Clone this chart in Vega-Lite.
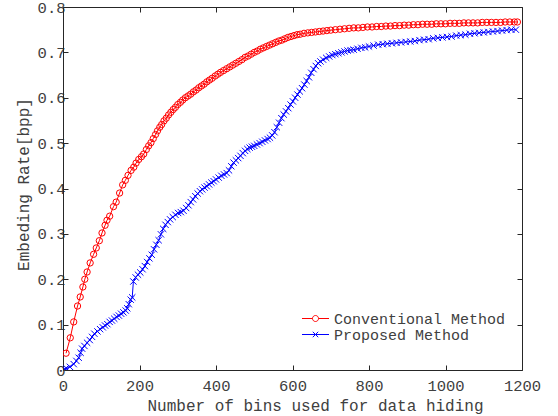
{
  "$schema": "https://vega.github.io/schema/vega-lite/v6.json",
  "width": 459,
  "height": 363,
  "autosize": "none",
  "padding": {"left": 63, "top": 7, "right": 36, "bottom": 46},
  "background": "white",
  "config": {
    "view": {"stroke": null},
    "font": "Liberation Mono",
    "axis": {
      "grid": false,
      "domainColor": "#262626",
      "tickColor": "#262626",
      "labelColor": "#404040",
      "titleColor": "#404040",
      "labelFont": "Liberation Mono",
      "titleFont": "Liberation Mono",
      "labelFontSize": 15.5,
      "titleFontSize": 16,
      "titleFontWeight": "normal",
      "tickSize": -5,
      "domainWidth": 1,
      "tickWidth": 1,
      "labelFlush": false,
      "labelOverlap": false
    }
  },
  "data": {"values": [
    {"method": "Conventional Method", "bins": 8, "rate": 0.037},
    {"method": "Conventional Method", "bins": 19, "rate": 0.071},
    {"method": "Conventional Method", "bins": 28, "rate": 0.106},
    {"method": "Conventional Method", "bins": 38, "rate": 0.141},
    {"method": "Conventional Method", "bins": 45, "rate": 0.161},
    {"method": "Conventional Method", "bins": 52, "rate": 0.183},
    {"method": "Conventional Method", "bins": 57, "rate": 0.2},
    {"method": "Conventional Method", "bins": 63, "rate": 0.216},
    {"method": "Conventional Method", "bins": 71, "rate": 0.236},
    {"method": "Conventional Method", "bins": 80, "rate": 0.255},
    {"method": "Conventional Method", "bins": 87, "rate": 0.269},
    {"method": "Conventional Method", "bins": 95, "rate": 0.285},
    {"method": "Conventional Method", "bins": 102, "rate": 0.302},
    {"method": "Conventional Method", "bins": 110, "rate": 0.319},
    {"method": "Conventional Method", "bins": 115, "rate": 0.33},
    {"method": "Conventional Method", "bins": 122, "rate": 0.339},
    {"method": "Conventional Method", "bins": 132, "rate": 0.36},
    {"method": "Conventional Method", "bins": 139, "rate": 0.37},
    {"method": "Conventional Method", "bins": 148, "rate": 0.39},
    {"method": "Conventional Method", "bins": 156, "rate": 0.408},
    {"method": "Conventional Method", "bins": 163, "rate": 0.418},
    {"method": "Conventional Method", "bins": 170, "rate": 0.429},
    {"method": "Conventional Method", "bins": 178, "rate": 0.44},
    {"method": "Conventional Method", "bins": 185, "rate": 0.447},
    {"method": "Conventional Method", "bins": 191, "rate": 0.456},
    {"method": "Conventional Method", "bins": 198, "rate": 0.464},
    {"method": "Conventional Method", "bins": 205, "rate": 0.47},
    {"method": "Conventional Method", "bins": 211, "rate": 0.476},
    {"method": "Conventional Method", "bins": 218, "rate": 0.486},
    {"method": "Conventional Method", "bins": 224, "rate": 0.494},
    {"method": "Conventional Method", "bins": 230, "rate": 0.501},
    {"method": "Conventional Method", "bins": 236, "rate": 0.51},
    {"method": "Conventional Method", "bins": 242, "rate": 0.519},
    {"method": "Conventional Method", "bins": 247, "rate": 0.527},
    {"method": "Conventional Method", "bins": 253, "rate": 0.535},
    {"method": "Conventional Method", "bins": 258, "rate": 0.541},
    {"method": "Conventional Method", "bins": 264, "rate": 0.549},
    {"method": "Conventional Method", "bins": 270, "rate": 0.555},
    {"method": "Conventional Method", "bins": 276, "rate": 0.562},
    {"method": "Conventional Method", "bins": 282, "rate": 0.568},
    {"method": "Conventional Method", "bins": 288, "rate": 0.574},
    {"method": "Conventional Method", "bins": 294, "rate": 0.579},
    {"method": "Conventional Method", "bins": 300, "rate": 0.585},
    {"method": "Conventional Method", "bins": 307, "rate": 0.59},
    {"method": "Conventional Method", "bins": 313, "rate": 0.595},
    {"method": "Conventional Method", "bins": 320, "rate": 0.6},
    {"method": "Conventional Method", "bins": 327, "rate": 0.604},
    {"method": "Conventional Method", "bins": 334, "rate": 0.608},
    {"method": "Conventional Method", "bins": 341, "rate": 0.613},
    {"method": "Conventional Method", "bins": 348, "rate": 0.617},
    {"method": "Conventional Method", "bins": 355, "rate": 0.622},
    {"method": "Conventional Method", "bins": 362, "rate": 0.626},
    {"method": "Conventional Method", "bins": 369, "rate": 0.63},
    {"method": "Conventional Method", "bins": 376, "rate": 0.635},
    {"method": "Conventional Method", "bins": 383, "rate": 0.639},
    {"method": "Conventional Method", "bins": 390, "rate": 0.643},
    {"method": "Conventional Method", "bins": 398, "rate": 0.648},
    {"method": "Conventional Method", "bins": 405, "rate": 0.652},
    {"method": "Conventional Method", "bins": 412, "rate": 0.656},
    {"method": "Conventional Method", "bins": 420, "rate": 0.66},
    {"method": "Conventional Method", "bins": 428, "rate": 0.664},
    {"method": "Conventional Method", "bins": 436, "rate": 0.668},
    {"method": "Conventional Method", "bins": 444, "rate": 0.672},
    {"method": "Conventional Method", "bins": 452, "rate": 0.676},
    {"method": "Conventional Method", "bins": 460, "rate": 0.68},
    {"method": "Conventional Method", "bins": 468, "rate": 0.684},
    {"method": "Conventional Method", "bins": 476, "rate": 0.689},
    {"method": "Conventional Method", "bins": 484, "rate": 0.692},
    {"method": "Conventional Method", "bins": 492, "rate": 0.696},
    {"method": "Conventional Method", "bins": 500, "rate": 0.7},
    {"method": "Conventional Method", "bins": 508, "rate": 0.703},
    {"method": "Conventional Method", "bins": 516, "rate": 0.707},
    {"method": "Conventional Method", "bins": 524, "rate": 0.71},
    {"method": "Conventional Method", "bins": 532, "rate": 0.713},
    {"method": "Conventional Method", "bins": 540, "rate": 0.716},
    {"method": "Conventional Method", "bins": 548, "rate": 0.719},
    {"method": "Conventional Method", "bins": 556, "rate": 0.722},
    {"method": "Conventional Method", "bins": 564, "rate": 0.725},
    {"method": "Conventional Method", "bins": 572, "rate": 0.727},
    {"method": "Conventional Method", "bins": 580, "rate": 0.73},
    {"method": "Conventional Method", "bins": 588, "rate": 0.733},
    {"method": "Conventional Method", "bins": 596, "rate": 0.735},
    {"method": "Conventional Method", "bins": 604, "rate": 0.737},
    {"method": "Conventional Method", "bins": 612, "rate": 0.739},
    {"method": "Conventional Method", "bins": 620, "rate": 0.74},
    {"method": "Conventional Method", "bins": 630, "rate": 0.742},
    {"method": "Conventional Method", "bins": 640, "rate": 0.743},
    {"method": "Conventional Method", "bins": 650, "rate": 0.744},
    {"method": "Conventional Method", "bins": 660, "rate": 0.745},
    {"method": "Conventional Method", "bins": 670, "rate": 0.746},
    {"method": "Conventional Method", "bins": 680, "rate": 0.747},
    {"method": "Conventional Method", "bins": 690, "rate": 0.748},
    {"method": "Conventional Method", "bins": 700, "rate": 0.749},
    {"method": "Conventional Method", "bins": 712, "rate": 0.75},
    {"method": "Conventional Method", "bins": 724, "rate": 0.751},
    {"method": "Conventional Method", "bins": 736, "rate": 0.752},
    {"method": "Conventional Method", "bins": 748, "rate": 0.753},
    {"method": "Conventional Method", "bins": 760, "rate": 0.754},
    {"method": "Conventional Method", "bins": 772, "rate": 0.754},
    {"method": "Conventional Method", "bins": 784, "rate": 0.755},
    {"method": "Conventional Method", "bins": 796, "rate": 0.756},
    {"method": "Conventional Method", "bins": 808, "rate": 0.756},
    {"method": "Conventional Method", "bins": 820, "rate": 0.757},
    {"method": "Conventional Method", "bins": 832, "rate": 0.757},
    {"method": "Conventional Method", "bins": 844, "rate": 0.758},
    {"method": "Conventional Method", "bins": 856, "rate": 0.758},
    {"method": "Conventional Method", "bins": 868, "rate": 0.759},
    {"method": "Conventional Method", "bins": 880, "rate": 0.759},
    {"method": "Conventional Method", "bins": 892, "rate": 0.76},
    {"method": "Conventional Method", "bins": 904, "rate": 0.76},
    {"method": "Conventional Method", "bins": 916, "rate": 0.761},
    {"method": "Conventional Method", "bins": 928, "rate": 0.761},
    {"method": "Conventional Method", "bins": 940, "rate": 0.762},
    {"method": "Conventional Method", "bins": 952, "rate": 0.762},
    {"method": "Conventional Method", "bins": 964, "rate": 0.762},
    {"method": "Conventional Method", "bins": 976, "rate": 0.763},
    {"method": "Conventional Method", "bins": 988, "rate": 0.763},
    {"method": "Conventional Method", "bins": 1000, "rate": 0.763},
    {"method": "Conventional Method", "bins": 1012, "rate": 0.764},
    {"method": "Conventional Method", "bins": 1024, "rate": 0.764},
    {"method": "Conventional Method", "bins": 1036, "rate": 0.764},
    {"method": "Conventional Method", "bins": 1048, "rate": 0.765},
    {"method": "Conventional Method", "bins": 1060, "rate": 0.765},
    {"method": "Conventional Method", "bins": 1072, "rate": 0.765},
    {"method": "Conventional Method", "bins": 1084, "rate": 0.765},
    {"method": "Conventional Method", "bins": 1096, "rate": 0.766},
    {"method": "Conventional Method", "bins": 1108, "rate": 0.766},
    {"method": "Conventional Method", "bins": 1120, "rate": 0.766},
    {"method": "Conventional Method", "bins": 1132, "rate": 0.766},
    {"method": "Conventional Method", "bins": 1144, "rate": 0.766},
    {"method": "Conventional Method", "bins": 1156, "rate": 0.767},
    {"method": "Conventional Method", "bins": 1168, "rate": 0.767},
    {"method": "Conventional Method", "bins": 1180, "rate": 0.767},
    {"method": "Conventional Method", "bins": 1188, "rate": 0.767},
    {"method": "Proposed Method", "bins": 5, "rate": 0.002},
    {"method": "Proposed Method", "bins": 10, "rate": 0.003},
    {"method": "Proposed Method", "bins": 18, "rate": 0.007},
    {"method": "Proposed Method", "bins": 28, "rate": 0.013},
    {"method": "Proposed Method", "bins": 35, "rate": 0.02},
    {"method": "Proposed Method", "bins": 41, "rate": 0.027},
    {"method": "Proposed Method", "bins": 46, "rate": 0.038},
    {"method": "Proposed Method", "bins": 50, "rate": 0.047},
    {"method": "Proposed Method", "bins": 56, "rate": 0.053},
    {"method": "Proposed Method", "bins": 63, "rate": 0.06},
    {"method": "Proposed Method", "bins": 70, "rate": 0.066},
    {"method": "Proposed Method", "bins": 76, "rate": 0.073},
    {"method": "Proposed Method", "bins": 82, "rate": 0.08},
    {"method": "Proposed Method", "bins": 90, "rate": 0.085},
    {"method": "Proposed Method", "bins": 97, "rate": 0.09},
    {"method": "Proposed Method", "bins": 104, "rate": 0.094},
    {"method": "Proposed Method", "bins": 110, "rate": 0.098},
    {"method": "Proposed Method", "bins": 116, "rate": 0.101},
    {"method": "Proposed Method", "bins": 122, "rate": 0.106},
    {"method": "Proposed Method", "bins": 128, "rate": 0.109},
    {"method": "Proposed Method", "bins": 134, "rate": 0.113},
    {"method": "Proposed Method", "bins": 140, "rate": 0.117},
    {"method": "Proposed Method", "bins": 146, "rate": 0.12},
    {"method": "Proposed Method", "bins": 152, "rate": 0.124},
    {"method": "Proposed Method", "bins": 158, "rate": 0.127},
    {"method": "Proposed Method", "bins": 164, "rate": 0.131},
    {"method": "Proposed Method", "bins": 168, "rate": 0.136},
    {"method": "Proposed Method", "bins": 172, "rate": 0.145},
    {"method": "Proposed Method", "bins": 177, "rate": 0.155},
    {"method": "Proposed Method", "bins": 181, "rate": 0.16},
    {"method": "Proposed Method", "bins": 184, "rate": 0.195},
    {"method": "Proposed Method", "bins": 190, "rate": 0.204},
    {"method": "Proposed Method", "bins": 196, "rate": 0.21},
    {"method": "Proposed Method", "bins": 202, "rate": 0.215},
    {"method": "Proposed Method", "bins": 208, "rate": 0.222},
    {"method": "Proposed Method", "bins": 214, "rate": 0.229},
    {"method": "Proposed Method", "bins": 220, "rate": 0.238},
    {"method": "Proposed Method", "bins": 226, "rate": 0.246},
    {"method": "Proposed Method", "bins": 232, "rate": 0.254},
    {"method": "Proposed Method", "bins": 238, "rate": 0.266},
    {"method": "Proposed Method", "bins": 244, "rate": 0.276},
    {"method": "Proposed Method", "bins": 250, "rate": 0.286},
    {"method": "Proposed Method", "bins": 256, "rate": 0.299},
    {"method": "Proposed Method", "bins": 262, "rate": 0.311},
    {"method": "Proposed Method", "bins": 268, "rate": 0.32},
    {"method": "Proposed Method", "bins": 274, "rate": 0.326},
    {"method": "Proposed Method", "bins": 280, "rate": 0.332},
    {"method": "Proposed Method", "bins": 287, "rate": 0.337},
    {"method": "Proposed Method", "bins": 294, "rate": 0.342},
    {"method": "Proposed Method", "bins": 301, "rate": 0.346},
    {"method": "Proposed Method", "bins": 308, "rate": 0.348},
    {"method": "Proposed Method", "bins": 315, "rate": 0.351},
    {"method": "Proposed Method", "bins": 322, "rate": 0.357},
    {"method": "Proposed Method", "bins": 328, "rate": 0.363},
    {"method": "Proposed Method", "bins": 334, "rate": 0.37},
    {"method": "Proposed Method", "bins": 340, "rate": 0.376},
    {"method": "Proposed Method", "bins": 346, "rate": 0.383},
    {"method": "Proposed Method", "bins": 352, "rate": 0.389},
    {"method": "Proposed Method", "bins": 358, "rate": 0.394},
    {"method": "Proposed Method", "bins": 364, "rate": 0.398},
    {"method": "Proposed Method", "bins": 370, "rate": 0.402},
    {"method": "Proposed Method", "bins": 376, "rate": 0.405},
    {"method": "Proposed Method", "bins": 382, "rate": 0.409},
    {"method": "Proposed Method", "bins": 388, "rate": 0.413},
    {"method": "Proposed Method", "bins": 394, "rate": 0.416},
    {"method": "Proposed Method", "bins": 400, "rate": 0.42},
    {"method": "Proposed Method", "bins": 407, "rate": 0.424},
    {"method": "Proposed Method", "bins": 414, "rate": 0.428},
    {"method": "Proposed Method", "bins": 421, "rate": 0.431},
    {"method": "Proposed Method", "bins": 428, "rate": 0.434},
    {"method": "Proposed Method", "bins": 434, "rate": 0.44},
    {"method": "Proposed Method", "bins": 440, "rate": 0.449},
    {"method": "Proposed Method", "bins": 446, "rate": 0.457},
    {"method": "Proposed Method", "bins": 452, "rate": 0.462},
    {"method": "Proposed Method", "bins": 458, "rate": 0.467},
    {"method": "Proposed Method", "bins": 464, "rate": 0.472},
    {"method": "Proposed Method", "bins": 470, "rate": 0.478},
    {"method": "Proposed Method", "bins": 476, "rate": 0.483},
    {"method": "Proposed Method", "bins": 482, "rate": 0.487},
    {"method": "Proposed Method", "bins": 488, "rate": 0.49},
    {"method": "Proposed Method", "bins": 494, "rate": 0.492},
    {"method": "Proposed Method", "bins": 500, "rate": 0.494},
    {"method": "Proposed Method", "bins": 507, "rate": 0.497},
    {"method": "Proposed Method", "bins": 514, "rate": 0.5},
    {"method": "Proposed Method", "bins": 521, "rate": 0.503},
    {"method": "Proposed Method", "bins": 528, "rate": 0.506},
    {"method": "Proposed Method", "bins": 535, "rate": 0.509},
    {"method": "Proposed Method", "bins": 541, "rate": 0.512},
    {"method": "Proposed Method", "bins": 547, "rate": 0.517},
    {"method": "Proposed Method", "bins": 553, "rate": 0.524},
    {"method": "Proposed Method", "bins": 559, "rate": 0.535},
    {"method": "Proposed Method", "bins": 565, "rate": 0.545},
    {"method": "Proposed Method", "bins": 571, "rate": 0.555},
    {"method": "Proposed Method", "bins": 577, "rate": 0.563},
    {"method": "Proposed Method", "bins": 583, "rate": 0.57},
    {"method": "Proposed Method", "bins": 589, "rate": 0.577},
    {"method": "Proposed Method", "bins": 595, "rate": 0.585},
    {"method": "Proposed Method", "bins": 601, "rate": 0.592},
    {"method": "Proposed Method", "bins": 607, "rate": 0.6},
    {"method": "Proposed Method", "bins": 613, "rate": 0.607},
    {"method": "Proposed Method", "bins": 619, "rate": 0.614},
    {"method": "Proposed Method", "bins": 625, "rate": 0.621},
    {"method": "Proposed Method", "bins": 631, "rate": 0.629},
    {"method": "Proposed Method", "bins": 637, "rate": 0.637},
    {"method": "Proposed Method", "bins": 643, "rate": 0.645},
    {"method": "Proposed Method", "bins": 649, "rate": 0.655},
    {"method": "Proposed Method", "bins": 655, "rate": 0.663},
    {"method": "Proposed Method", "bins": 661, "rate": 0.67},
    {"method": "Proposed Method", "bins": 667, "rate": 0.676},
    {"method": "Proposed Method", "bins": 673, "rate": 0.68},
    {"method": "Proposed Method", "bins": 680, "rate": 0.684},
    {"method": "Proposed Method", "bins": 688, "rate": 0.688},
    {"method": "Proposed Method", "bins": 696, "rate": 0.691},
    {"method": "Proposed Method", "bins": 704, "rate": 0.694},
    {"method": "Proposed Method", "bins": 712, "rate": 0.696},
    {"method": "Proposed Method", "bins": 720, "rate": 0.698},
    {"method": "Proposed Method", "bins": 728, "rate": 0.7},
    {"method": "Proposed Method", "bins": 736, "rate": 0.702},
    {"method": "Proposed Method", "bins": 744, "rate": 0.704},
    {"method": "Proposed Method", "bins": 752, "rate": 0.705},
    {"method": "Proposed Method", "bins": 760, "rate": 0.706},
    {"method": "Proposed Method", "bins": 770, "rate": 0.708},
    {"method": "Proposed Method", "bins": 780, "rate": 0.71},
    {"method": "Proposed Method", "bins": 790, "rate": 0.711},
    {"method": "Proposed Method", "bins": 800, "rate": 0.713},
    {"method": "Proposed Method", "bins": 812, "rate": 0.715},
    {"method": "Proposed Method", "bins": 824, "rate": 0.717},
    {"method": "Proposed Method", "bins": 836, "rate": 0.718},
    {"method": "Proposed Method", "bins": 848, "rate": 0.719},
    {"method": "Proposed Method", "bins": 860, "rate": 0.72},
    {"method": "Proposed Method", "bins": 872, "rate": 0.721},
    {"method": "Proposed Method", "bins": 884, "rate": 0.722},
    {"method": "Proposed Method", "bins": 896, "rate": 0.723},
    {"method": "Proposed Method", "bins": 908, "rate": 0.724},
    {"method": "Proposed Method", "bins": 920, "rate": 0.725},
    {"method": "Proposed Method", "bins": 932, "rate": 0.727},
    {"method": "Proposed Method", "bins": 944, "rate": 0.728},
    {"method": "Proposed Method", "bins": 956, "rate": 0.729},
    {"method": "Proposed Method", "bins": 968, "rate": 0.731},
    {"method": "Proposed Method", "bins": 980, "rate": 0.732},
    {"method": "Proposed Method", "bins": 992, "rate": 0.733},
    {"method": "Proposed Method", "bins": 1004, "rate": 0.734},
    {"method": "Proposed Method", "bins": 1016, "rate": 0.735},
    {"method": "Proposed Method", "bins": 1028, "rate": 0.737},
    {"method": "Proposed Method", "bins": 1040, "rate": 0.738},
    {"method": "Proposed Method", "bins": 1052, "rate": 0.739},
    {"method": "Proposed Method", "bins": 1064, "rate": 0.741},
    {"method": "Proposed Method", "bins": 1076, "rate": 0.742},
    {"method": "Proposed Method", "bins": 1088, "rate": 0.743},
    {"method": "Proposed Method", "bins": 1100, "rate": 0.744},
    {"method": "Proposed Method", "bins": 1112, "rate": 0.745},
    {"method": "Proposed Method", "bins": 1124, "rate": 0.746},
    {"method": "Proposed Method", "bins": 1136, "rate": 0.747},
    {"method": "Proposed Method", "bins": 1148, "rate": 0.748},
    {"method": "Proposed Method", "bins": 1160, "rate": 0.749},
    {"method": "Proposed Method", "bins": 1172, "rate": 0.75},
    {"method": "Proposed Method", "bins": 1184, "rate": 0.75}
  ]},
  "resolve": {"axis": {"x": "independent", "y": "independent"}},
  "layer": [
    {
      "mark": {"type": "line", "strokeWidth": 1, "clip": true},
      "encoding": {
        "x": {"field": "bins", "type": "quantitative",
          "scale": {"domain": [0, 1200], "nice": false, "zero": false},
          "axis": {"orient": "bottom", "values": [0, 200, 400, 600, 800, 1000, 1200], "format": "d",
            "title": "Number of bins used for data hiding", "labelPadding": 13,
            "titleX": 252, "titleY": 35, "titleAlign": "center", "titleBaseline": "middle"}},
        "y": {"field": "rate", "type": "quantitative",
          "scale": {"domain": [0, 0.8], "nice": false, "zero": false},
          "axis": {"orient": "left", "values": [0, 0.1, 0.2, 0.3, 0.4, 0.5, 0.6, 0.7, 0.8],
            "labelExpr": "datum.value == 0 ? '0' : format(datum.value, '.1f')",
            "title": "Embeding Rate[bpp]", "labelPadding": 3,
            "titleX": -40, "titleY": 177, "titleAlign": "center", "titleBaseline": "middle", "titleAngle": -90}},
        "color": {"field": "method", "type": "nominal",
          "scale": {"domain": ["Conventional Method", "Proposed Method"], "range": ["#ff0000", "#0000ff"]},
          "legend": {
            "title": null, "orient": "none", "legendX": 245, "legendY": 304,
            "padding": 0, "labelFont": "Liberation Mono", "labelFontSize": 15, "labelColor": "#404040",
            "labelLimit": 0,
            "symbolSize": 196, "labelOffset": 11, "rowPadding": 0,
            "encode": {"symbols": {"update": {
              "shape": {"signal": "datum.value == 'Conventional Method' ? 'M-1.93,0H-0.43M0.43,0H1.93M0.43,0A0.43,0.43,0,1,1,-0.43,0A0.43,0.43,0,1,1,0.43,0' : 'M-1.93,0H1.93M-0.39,-0.39L0.39,0.39M-0.39,0.39L0.39,-0.39'"},
              "size": {"value": 196},
              "fill": {"value": "transparent"},
              "strokeWidth": {"value": 1},
              "opacity": {"value": 1}
            }}}
          }}
      }
    },
    {
      "transform": [{"filter": "datum.method == 'Conventional Method'"}],
      "mark": {"type": "point", "shape": "circle", "filled": false, "strokeWidth": 1, "size": 40, "opacity": 1, "color": "#ff0000", "clip": true},
      "encoding": {
        "x": {"field": "bins", "type": "quantitative",
          "axis": {"orient": "top", "values": [0, 200, 400, 600, 800, 1000, 1200], "labels": false, "title": null}},
        "y": {"field": "rate", "type": "quantitative",
          "axis": {"orient": "right", "values": [0, 0.1, 0.2, 0.3, 0.4, 0.5, 0.6, 0.7, 0.8], "labels": false, "title": null}}
      }
    },
    {
      "transform": [{"filter": "datum.method == 'Proposed Method'"}],
      "mark": {"type": "point", "shape": "M-1,-1L1,1M-1,1L1,-1", "filled": false, "strokeWidth": 1, "size": 40, "opacity": 1, "color": "#0000ff", "clip": true},
      "encoding": {
        "x": {"field": "bins", "type": "quantitative", "axis": null},
        "y": {"field": "rate", "type": "quantitative", "axis": null}
      }
    }
  ]
}
